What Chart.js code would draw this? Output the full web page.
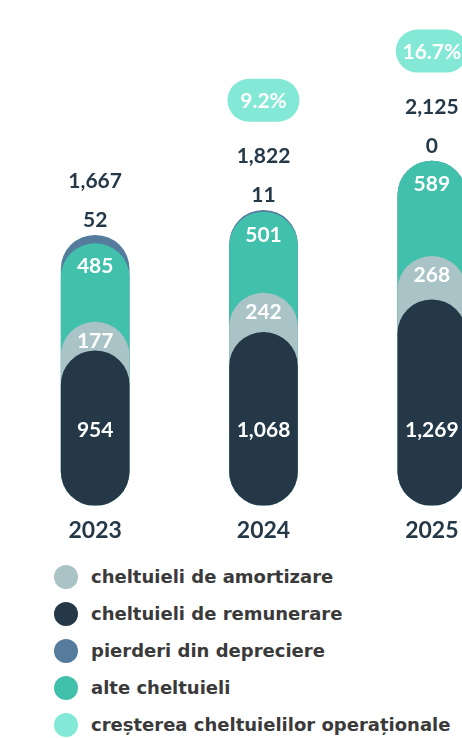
<!DOCTYPE html>
<html>
<head>
<meta charset="utf-8">
<style>
    body { margin: 0; background: #fff; overflow: hidden; width: 462px; height: 738px; }
    #chart-wrapper { position: absolute; left: 0; top: 0; width: 520px; height: 547px; }
    #legend { position: absolute; left: 54px; top: 558px; margin: 0; padding: 0; list-style: none; }
    #legend li { display: flex; align-items: center; height: 37px; font-family: "DejaVu Sans", sans-serif; font-weight: 700; font-size: 18px; color: #3a3a3a; white-space: nowrap; }
    #legend span.dot { display: inline-block; width: 24px; height: 24px; border-radius: 50%; margin-right: 13px; }
</style>
</head>
<body>
<div id="chart-wrapper">
    <canvas id="costChart"></canvas>
</div>
<ul id="legend"></ul>
<script src="https://cdn.jsdelivr.net/npm/chart.js"></script>
<script>
    const years = ['2023', '2024', '2025'];
    const remunerare = [954, 1068, 1269];
    const amortizare = [177, 242, 268];
    const alte = [485, 501, 589];
    const depreciere = [52, 11, 0];
    const totals = [1667, 1822, 2125];
    const growth = [null, 9.2, 16.7];

    const colors = {
        remunerare: '#253847',
        amortizare: '#a9c3c6',
        depreciere: '#557c9c',
        alte: '#41c1ab',
        crestere: '#84e8d6'
    };

    // each capsule runs from 0 to its cumulative top, drawn overlapping
    const cumRem = remunerare.slice();
    const cumAmort = cumRem.map((v, i) => v + amortizare[i]);
    const cumAlte = cumAmort.map((v, i) => v + alte[i]);
    const cumDep = cumAlte.map((v, i) => v + depreciere[i]);

    function fmt(v) {
        return v.toLocaleString('en-US');
    }

    const labelsPlugin = {
        id: 'barLabels',
        afterDatasetsDraw(chart) {
            const ctx = chart.ctx;
            const xs = chart.scales.x;
            const ys = chart.scales.y;
            ctx.save();
            ctx.textAlign = 'center';
            ctx.textBaseline = 'middle';
            ctx.font = '700 21px Lato, sans-serif';
            years.forEach((yr, i) => {
                const x = xs.getPixelForValue(i);
                const base = ys.getPixelForValue(0);
                const top = ys.getPixelForValue(cumDep[i]);
                ctx.fillStyle = '#ffffff';
                ctx.fillText(fmt(remunerare[i]), x, base - 75);
                ctx.fillText(fmt(amortizare[i]), x, ys.getPixelForValue(cumAmort[i]) + 19);
                ctx.fillText(fmt(alte[i]), x, ys.getPixelForValue(cumAlte[i]) + 23);
                ctx.fillStyle = '#253847';
                ctx.fillText(fmt(depreciere[i]), x, top - 15);
                ctx.fillText(fmt(totals[i]), x, top - 54);
                if (growth[i] !== null) {
                    const w = 72, h = 43, cy = top - 110;
                    ctx.fillStyle = colors.crestere;
                    ctx.beginPath();
                    ctx.roundRect(x - w / 2, cy - h / 2, w, h, h / 2);
                    ctx.fill();
                    ctx.fillStyle = '#ffffff';
                    ctx.fillText(growth[i].toFixed(1) + '%', x, cy + 1);
                }
            });
            ctx.restore();
        }
    };

    const capsule = {
        borderRadius: 40,
        borderSkipped: false,
        borderWidth: 0,
        barThickness: 68,
        grouped: false
    };

    const ctx = document.getElementById('costChart');
    new Chart(ctx, {
        type: 'bar',
        data: {
            labels: years,
            datasets: [
                Object.assign({ label: 'cheltuieli de remunerare', data: cumRem.map(v => [0, v]), backgroundColor: colors.remunerare }, capsule),
                Object.assign({ label: 'cheltuieli de amortizare', data: cumAmort.map(v => [0, v]), backgroundColor: colors.amortizare }, capsule),
                Object.assign({ label: 'alte cheltuieli', data: cumAlte.map(v => [0, v]), backgroundColor: colors.alte }, capsule),
                Object.assign({ label: 'pierderi din depreciere', data: cumDep.map(v => [0, v]), backgroundColor: colors.depreciere }, capsule)
            ]
        },
        options: {
            responsive: true,
            maintainAspectRatio: false,
            animation: false,
            layout: { padding: { left: 11, right: 4, top: 0, bottom: 0 } },
            plugins: {
                legend: { display: false },
                tooltip: { enabled: false }
            },
            scales: {
                x: {
                    grid: { display: false },
                    border: { display: false },
                    ticks: {
                        padding: 3,
                        color: '#253847',
                        font: { family: 'Lato, sans-serif', weight: '700', size: 23 }
                    }
                },
                y: {
                    display: false,
                    min: 0,
                    max: 3120
                }
            }
        },
        plugins: [labelsPlugin]
    });

    // legend built from the same names and colours
    const legendItems = [
        ['cheltuieli de amortizare', colors.amortizare],
        ['cheltuieli de remunerare', colors.remunerare],
        ['pierderi din depreciere', colors.depreciere],
        ['alte cheltuieli', colors.alte],
        ['creșterea cheltuielilor operaționale', colors.crestere]
    ];
    const ul = document.getElementById('legend');
    legendItems.forEach(([text, color]) => {
        const li = document.createElement('li');
        li.innerHTML = '<span class="dot" style="background:' + color + '"></span>' + text;
        ul.appendChild(li);
    });
</script>
</body>
</html>
